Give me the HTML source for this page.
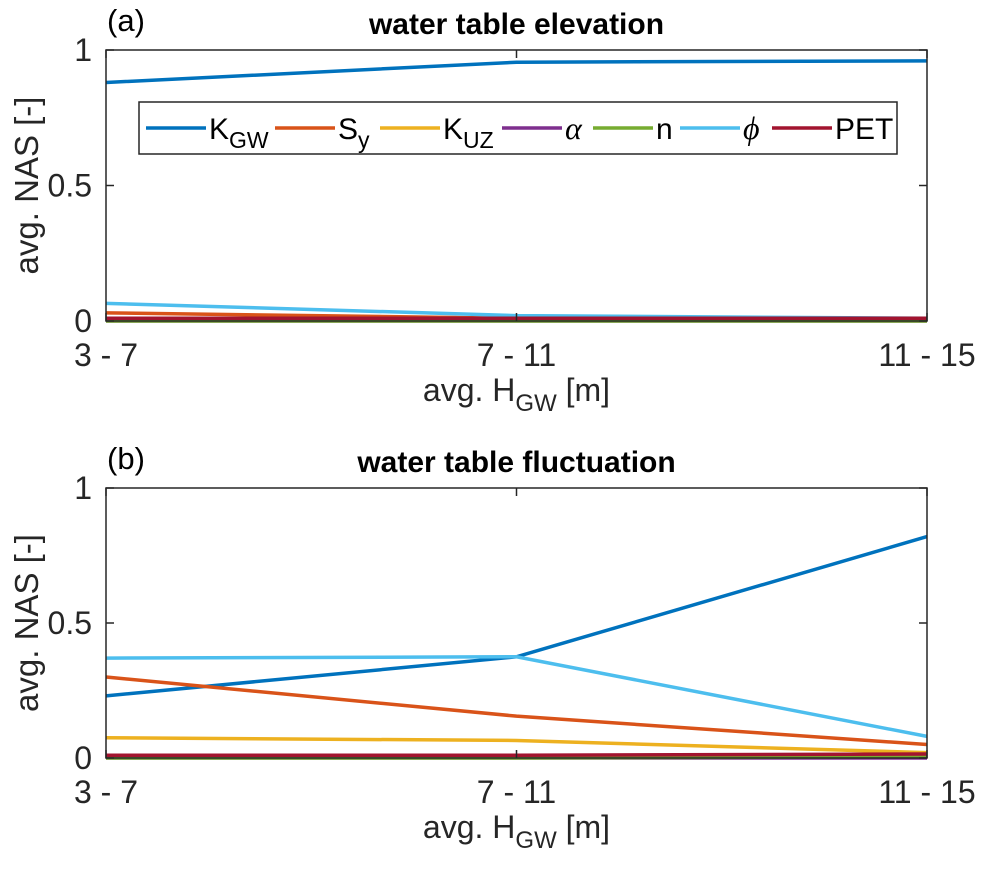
<!DOCTYPE html>
<html><head><meta charset="utf-8"><style>
body{margin:0;background:#fff}
svg{display:block;font-family:"Liberation Sans",sans-serif}
</style></head><body>
<svg id="c" width="986" height="875"></svg>
<script>
const categories=["3 - 7","7 - 11","11 - 15"];
const yTicks=[0,0.5,1];
const yTickLabels=["0","0.5","1"];
const seriesNames=["KGW","Sy","KUZ","alpha","n","phi","PET"];
const colors=["#0072BD","#D95319","#EDB120","#7E2F8E","#77AC30","#4DBEEE","#A2142F"];
const elevKGW=[0.88,0.955,0.96];
const elevSy=[0.03,0.01,0.01];
const elevKUZ=[0.005,0.005,0.005];
const elevAlpha=[0,0,0];
const elevN=[0,0,0];
const elevPhi=[0.065,0.02,0.01];
const elevPET=[0.01,0.01,0.01];
const fluctKGW=[0.23,0.375,0.82];
const fluctSy=[0.30,0.155,0.05];
const fluctKUZ=[0.075,0.065,0.02];
const fluctAlpha=[0,0,0];
const fluctN=[0,0,0.005];
const fluctPhi=[0.37,0.375,0.08];
const fluctPET=[0.01,0.01,0.015];

const NS="http://www.w3.org/2000/svg";
const svg=document.getElementById('c');
function mk(tag,attrs,parent){const e=document.createElementNS(NS,tag);for(const k in attrs)e.setAttribute(k,attrs[k]);(parent||svg).appendChild(e);return e;}

function panel(key,top,bottom,letter,title,series){
  const L=106,R=927;
  const g=mk('g',{});
  
  
  const xs=i=>L+(R-L)*i/(categories.length-1);
  const ys=v=>bottom-(bottom-top)*v;
  series.forEach((s,si)=>{
    const p=mk('polyline',{points:s.map((v,i)=>xs(i)+','+ys(v)).join(' '),fill:'none',stroke:colors[si],'stroke-width':3.5},g);
    
    
  });
  const box=mk('rect',{x:L,y:top,width:R-L,height:bottom-top,fill:'none',stroke:'#262626','stroke-width':1.5},g);
  
  
  yTicks.forEach((t,i)=>{
    const y=ys(t);
    mk('line',{x1:L,x2:L+8,y1:y,y2:y,stroke:'#262626','stroke-width':1.5},g);
    mk('line',{x1:R,x2:R-8,y1:y,y2:y,stroke:'#262626','stroke-width':1.5},g);
    const tx=mk('text',{x:L-14,y:y+11,'text-anchor':'end','font-size':32,fill:'#262626'},g);
    tx.textContent=yTickLabels[i];
    
    
  });
  categories.forEach((c,i)=>{
    const x=xs(i);
    mk('line',{x1:x,x2:x,y1:bottom,y2:bottom-8,stroke:'#262626','stroke-width':1.5},g);
    mk('line',{x1:x,x2:x,y1:top,y2:top+8,stroke:'#262626','stroke-width':1.5},g);
    const tx=mk('text',{x:x,y:bottom+45,'text-anchor':'middle','font-size':32,fill:'#262626'},g);
    tx.textContent=c;
    
    
  });
  const xl=mk('text',{x:(L+R)/2,y:bottom+80,'text-anchor':'middle','font-size':32,fill:'#262626'},g);
  xl.innerHTML='avg. H<tspan font-size="24" dy="10">GW</tspan><tspan dy="-10"> [m]</tspan>';
  
  
  const yl=mk('text',{x:0,y:0,'text-anchor':'middle','font-size':33,fill:'#262626',transform:`translate(38,${(top+bottom)/2}) rotate(-90)`},g);
  yl.textContent='avg. NAS [-]';
  
  
  const tl=mk('text',{x:(L+R)/2,y:top-16,'text-anchor':'middle','font-size':30,'font-weight':'bold',fill:'#000'},g);
  tl.textContent=title;
  
  
  const lt=mk('text',{x:107,y:top-19,'font-size':31,fill:'#000'},g);
  lt.textContent=letter;
  
  
}
panel('elevation',50,321,'(a)','water table elevation',[elevKGW,elevSy,elevKUZ,elevAlpha,elevN,elevPhi,elevPET]);
panel('fluctuation',488,758,'(b)','water table fluctuation',[fluctKGW,fluctSy,fluctKUZ,fluctAlpha,fluctN,fluctPhi,fluctPET]);

const lg=mk('g',{});


mk('rect',{x:139,y:102,width:758,height:52,fill:'#fff',stroke:'#262626','stroke-width':1.5},lg);
const lx1=[146,275,380,502,593,680,772];
const labels=['K<tspan font-size="23" dy="9">GW</tspan>','S<tspan font-size="23" dy="9">y</tspan>','K<tspan font-size="23" dy="9">UZ</tspan>','<tspan font-family="Liberation Serif" font-style="italic" font-size="32">α</tspan>','n','<tspan font-family="Liberation Serif" font-style="italic" font-size="32">ϕ</tspan>','PET'];
seriesNames.forEach((n,i)=>{
  const e=mk('g',{},lg);
  
  
  mk('line',{x1:lx1[i],x2:lx1[i]+60,y1:128,y2:128,stroke:colors[i],'stroke-width':3.5},e);
  const t=mk('text',{x:lx1[i]+63,y:139,'font-size':30,fill:'#000'},e);
  t.innerHTML=labels[i];
});
</script>
</body></html>
